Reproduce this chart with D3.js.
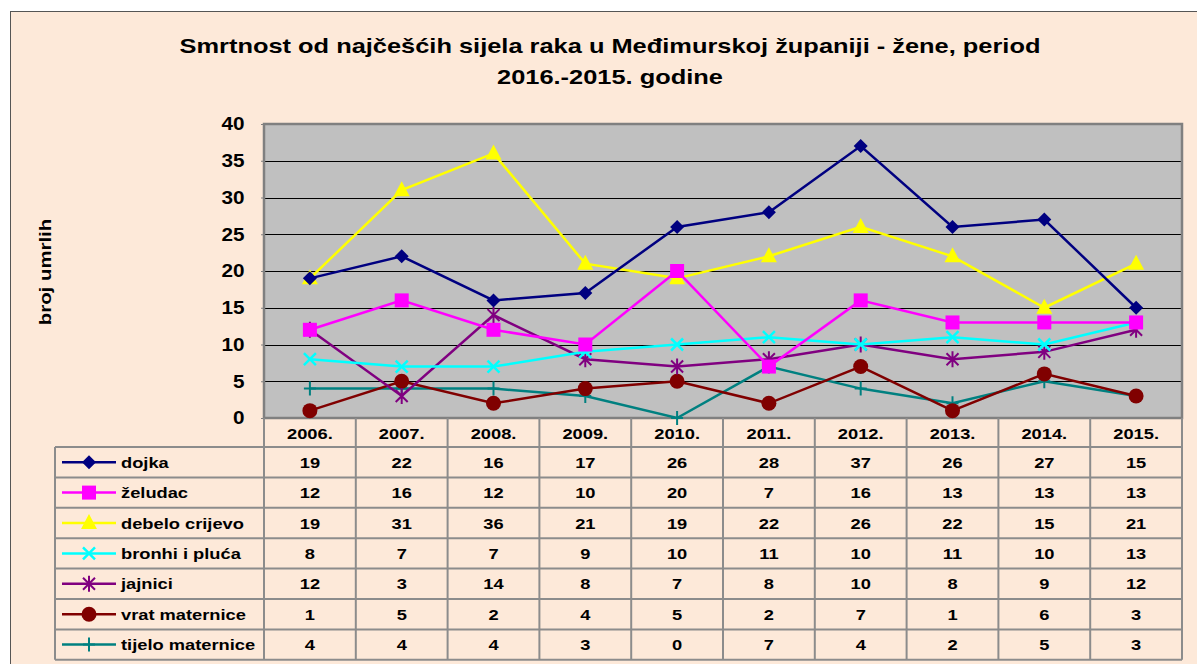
<!DOCTYPE html>
<html>
<head>
<meta charset="utf-8">
<script src="https://cdn.jsdelivr.net/npm/d3@7"></script>
<style>
  body { margin: 0; background: #fff; }
  svg { display: block; font-family: "Liberation Sans", Arial, sans-serif; }
</style>
</head>
<body>
<svg id="chart" width="1197" height="664"></svg>
<script>
let years = ["2006.", "2007.", "2008.", "2009.", "2010.", "2011.", "2012.", "2013.", "2014.", "2015."];
let seriesNames = ["dojka", "želudac", "debelo crijevo", "bronhi i pluća", "jajnici", "vrat maternice", "tijelo maternice"];
let dojka = [19, 22, 16, 17, 26, 28, 37, 26, 27, 15];
let zeludac = [12, 16, 12, 10, 20, 7, 16, 13, 13, 13];
let debeloCrijevo = [19, 31, 36, 21, 19, 22, 26, 22, 15, 21];
let bronhiPluca = [8, 7, 7, 9, 10, 11, 10, 11, 10, 13];
let jajnici = [12, 3, 14, 8, 7, 8, 10, 8, 9, 12];
let vratMaternice = [1, 5, 2, 4, 5, 2, 7, 1, 6, 3];
let tijeloMaternice = [4, 4, 4, 3, 0, 7, 4, 2, 5, 3];
let yTicks = [0, 5, 10, 15, 20, 25, 30, 35, 40];

let allValues = [dojka, zeludac, debeloCrijevo, bronhiPluca, jajnici, vratMaternice, tijeloMaternice];
let colors = ["#000080", "#ff00ff", "#ffff00", "#00ffff", "#800080", "#800000", "#008080"];
let markers = ["diamond", "square", "triangle", "x", "star", "circle", "plus"];

let series = seriesNames.map((name, i) => ({ name: name, values: allValues[i], color: colors[i], marker: markers[i] }));

let svg = d3.select("#chart");

// bold text, a bit wider than the plain font (like the excel export)
function label(g, x, y, str, size, anchor, stretch) {
  return g.append("text")
    .attr("transform", `translate(${x},${y}) scale(${stretch || 1.18},1)`)
    .attr("text-anchor", anchor || "start")
    .attr("font-size", size).attr("font-weight", "bold")
    .attr("fill", "#000")
    .text(str);
}

// chart frame
svg.append("rect")
  .attr("x", 10.5).attr("y", 11.5)
  .attr("width", 1200).attr("height", 700)
  .attr("fill", "#fde9d9")
  .attr("stroke", "#555").attr("stroke-width", 1);

// title
label(svg, 610, 53, "Smrtnost od najčešćih sijela raka u Međimurskoj županiji - žene, period", 21, "middle", 1.21);
label(svg, 610, 84, "2016.-2015. godine", 21, "middle", 1.21);

let plotLeft = 264, plotRight = 1182, plotTop = 124, plotBottom = 418;

let x = d3.scaleBand().domain(years).range([plotLeft, plotRight]);
let y = d3.scaleLinear().domain([0, 40]).range([plotBottom, plotTop]);

// plot area
svg.append("rect")
  .attr("x", plotLeft).attr("y", plotTop)
  .attr("width", plotRight - plotLeft).attr("height", plotBottom - plotTop)
  .attr("fill", "#c0c0c0");

svg.append("g")
  .selectAll("line")
  .data(yTicks.filter(d => d > 0 && d < 40))
  .join("line")
  .attr("x1", plotLeft).attr("x2", plotRight)
  .attr("y1", d => Math.round(y(d)) + 0.5).attr("y2", d => Math.round(y(d)) + 0.5)
  .attr("stroke", "#000").attr("stroke-width", 1);

svg.append("rect")
  .attr("x", plotLeft).attr("y", plotTop)
  .attr("width", plotRight - plotLeft).attr("height", plotBottom - plotTop)
  .attr("fill", "none")
  .attr("stroke", "#808080").attr("stroke-width", 2.5);

// y axis
let yAxis = svg.append("g")
  .attr("transform", `translate(${plotLeft},0)`)
  .call(d3.axisLeft(y).tickValues(yTicks).tickSize(3).tickPadding(14));
yAxis.select(".domain").remove();
yAxis.selectAll(".tick line").attr("stroke", "#808080");
yAxis.selectAll("text")
  .attr("transform", "scale(1.15,1)")
  .attr("font-size", 18).attr("font-weight", "bold")
  .attr("font-family", "'Liberation Sans', Arial, sans-serif")
  .attr("fill", "#000");

svg.append("text")
  .attr("transform", "translate(51,272) rotate(-90) scale(1.2,1)")
  .attr("text-anchor", "middle")
  .attr("font-size", 17).attr("font-weight", "bold")
  .text("broj umrlih");

// marker drawing
function drawMarker(g, type, color) {
  if (type === "diamond") {
    g.append("path").attr("d", "M0,-7L7,0L0,7L-7,0Z").attr("fill", color);
  } else if (type === "square") {
    g.append("rect").attr("x", -7).attr("y", -7).attr("width", 14).attr("height", 14).attr("fill", color);
  } else if (type === "triangle") {
    g.append("path").attr("d", "M0,-9L8,6L-8,6Z").attr("fill", color);
  } else if (type === "x") {
    g.append("path").attr("d", "M-6,-6L6,6M-6,6L6,-6").attr("stroke", color).attr("stroke-width", 2.5);
  } else if (type === "star") {
    g.append("path").attr("d", "M-6,-6L6,6M-6,6L6,-6M0,-8L0,8").attr("stroke", color).attr("stroke-width", 2);
  } else if (type === "circle") {
    g.append("circle").attr("r", 7.5).attr("fill", color);
  } else if (type === "plus") {
    g.append("path").attr("d", "M-6,0L6,0M0,-7L0,7").attr("stroke", color).attr("stroke-width", 2);
  }
}

let line = d3.line()
  .x((d, i) => x(years[i]) + x.bandwidth() / 2)
  .y(d => y(d));

let drawOrder = [6, 5, 4, 3, 2, 1, 0];
drawOrder.forEach(k => {
  let s = series[k];
  let g = svg.append("g");
  g.append("path")
    .attr("d", line(s.values))
    .attr("fill", "none")
    .attr("stroke", s.color).attr("stroke-width", 2.5);
  s.values.forEach((v, i) => {
    let m = g.append("g").attr("transform", `translate(${x(years[i]) + x.bandwidth() / 2},${y(v)})`);
    drawMarker(m, s.marker, s.color);
  });
});

// data table
let tableLeft = 55, headerTop = plotBottom, rowH = 30.4;
let headerBottom = 447;
let tableBottom = headerBottom + rowH * series.length;
let grid = svg.append("g").attr("stroke", "#8c8c8c").attr("stroke-width", 2).attr("fill", "none");

// header year labels
let head = svg.append("g");
years.forEach(d => {
  label(head, x(d) + x.bandwidth() / 2, (headerTop + headerBottom) / 2 + 6, d, 15.5, "middle");
});

// horizontal rules
let rowLines = d3.range(series.length + 1).map(i => headerBottom + i * rowH);
grid.selectAll(".hrule")
  .data(rowLines)
  .join("line")
  .attr("x1", tableLeft).attr("x2", plotRight)
  .attr("y1", d => d).attr("y2", d => d);

// vertical rules
let colLines = years.map(d => x(d)).concat([plotRight]);
grid.selectAll(".vrule")
  .data(colLines)
  .join("line")
  .attr("x1", d => d).attr("x2", d => d)
  .attr("y1", headerTop).attr("y2", tableBottom);
grid.append("line")
  .attr("x1", tableLeft).attr("x2", tableLeft)
  .attr("y1", headerBottom).attr("y2", tableBottom);

// rows
series.forEach((s, r) => {
  let cy = headerBottom + r * rowH + rowH / 2;
  let g = svg.append("g");
  g.append("line")
    .attr("x1", 62).attr("x2", 116).attr("y1", cy).attr("y2", cy)
    .attr("stroke", s.color).attr("stroke-width", 2.5);
  let m = g.append("g").attr("transform", `translate(89,${cy})`);
  drawMarker(m, s.marker, s.color);
  label(g, 121, cy + 5.5, s.name, 15.5, "start");
  s.values.forEach((v, i) => {
    label(g, x(years[i]) + x.bandwidth() / 2, cy + 5.5, v, 15.5, "middle");
  });
});
</script>
</body>
</html>
